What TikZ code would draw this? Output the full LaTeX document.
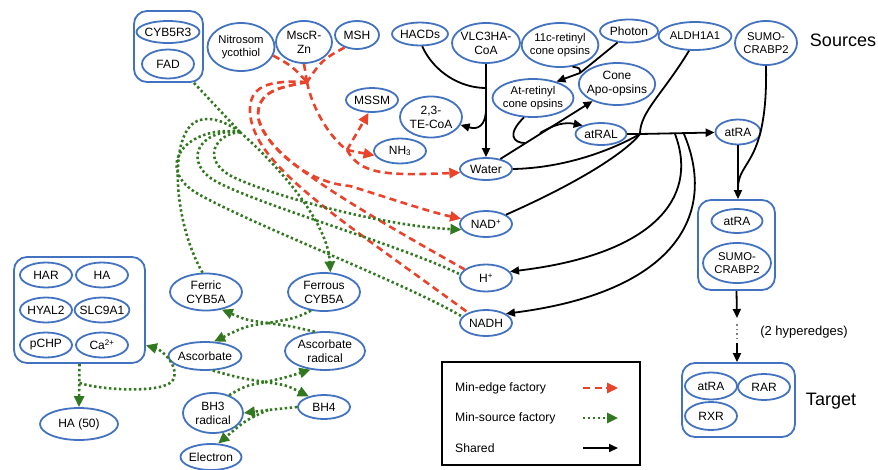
\documentclass[tikz,border=0pt]{standalone}
\usepackage{fontspec}
\setmainfont{Liberation Sans}
\usetikzlibrary{shapes.geometric,arrows.meta}
\definecolor{nb}{RGB}{66,114,192}
\definecolor{rd}{RGB}{234,67,44}
\definecolor{gn}{RGB}{50,120,32}
\begin{document}
\begin{tikzpicture}[x=1pt,y=-1pt,
  sz/.style 2 args={minimum width=#1pt, minimum height=#2pt},
  ell/.style={ellipse, draw=nb, line width=1.8pt, inner sep=-3pt, align=center, font=\fontsize{12}{14}\selectfont},
  sm/.style={font=\fontsize{11.3}{13.5}\selectfont},
  grp/.style={rectangle, draw=nb, line width=1.8pt, rounded corners=13pt},
  shr/.style={line width=1.8pt, black},
  shra/.style={shr, -{Triangle[length=9pt,width=8pt]}},
  medge/.style={line width=2.6pt, rd, dash pattern=on 7pt off 4.5pt},
  medgea/.style={medge, -{Triangle[length=11pt,width=10pt]}},
  msrc/.style={line width=2.6pt, gn, dash pattern=on 2.4pt off 2.6pt},
  msrca/.style={msrc, -{Triangle[length=11pt,width=10pt]}},
  lbl/.style={font=\fontsize{12.2}{14}\selectfont, anchor=west, inner sep=0pt}
]
\useasboundingbox (0,0) rectangle (878,469);

% ---------- top row ----------
\node[ell,sz={63}{22}] (cyb) at (168,32) {CYB5R3};
\node[ell,sz={52}{29}] (fad) at (168,64) {FAD};
\node[grp,sz={69}{71}] (box1) at (168.5,46.5) {};
\node[ell,sm,sz={67}{48}] (nit) at (241,47) {Nitrosom\\ycothiol};
\node[ell,sz={56}{42}] (msc) at (304,42) {MscR-\\Zn};
\node[ell,sz={44}{28}] (msh) at (357,35) {MSH};
\node[ell,sz={56}{23}] (hac) at (420,34) {HACDs};
\node[ell,sz={68}{40}] (vlc) at (486,43) {VLC3HA-\\CoA};
\node[ell,sm,sz={74}{44}] (c11) at (560,45) {11c-retinyl\\cone opsins};
\node[ell,sz={58}{23}] (pho) at (629,31) {Photon};
\node[ell,sm,sz={73}{28}] (ald) at (695,36) {ALDH1A1};
\node[ell,sm,sz={62}{44}] (sum) at (766,43) {SUMO-\\CRABP2};
\node[font=\fontsize{18}{20}\selectfont] (src) at (843,40) {Sources};

% ---------- middle ----------
\node[ell,sz={52}{24}] (mssm) at (372,100) {MSSM};
\node[ell,sz={62}{41}] (te) at (431,117) {2,3-\\TE-CoA};
\node[ell,sz={52}{25}] (nh3) at (400,151) {NH\textsubscript{3}};
\node[ell,sz={52}{22}] (wat) at (486,169) {Water};
\node[ell,sm,sz={81}{38}] (atr) at (533,98) {At-retinyl\\cone opsins};
\node[ell,sz={70}{42}] (apo) at (617,84) {Cone\\Apo-opsins};
\node[ell,sz={51}{22}] (ral) at (601,134) {atRAL};
\node[ell,sz={45}{25}] (ra) at (738,132) {atRA};
\node[ell,sz={52}{26}] (nadp) at (486,224) {NAD\textsuperscript{+}};
\node[ell,sz={52}{27}] (hp) at (486,278) {H\textsuperscript{+}};
\node[ell,sz={52}{26}] (nadh) at (486,323) {NADH};

% ---------- right ----------
\node[ell,sz={51}{24}] (ra2) at (737,221) {atRA};
\node[ell,sm,sz={68}{40}] (sum2) at (737,263) {SUMO-\\CRABP2};
\node[grp,sz={77}{90}] (box2) at (736.5,245) {};
\node[ell,sz={52}{27}] (ra3) at (711,386) {atRA};
\node[ell,sz={52}{26}] (rar) at (764,387) {RAR};
\node[ell,sz={52}{28}] (rxr) at (711,416) {RXR};
\node[grp,sz={113}{74}] (box3) at (738.5,400) {};
\node[font=\fontsize{13}{15}\selectfont] (hyp) at (804,332) {(2 hyperedges)};
\node[font=\fontsize{18}{20}\selectfont] (tgt) at (831,401) {Target};

% ---------- left group ----------
\node[ell,sz={52}{25}] (har) at (46,275) {HAR};
\node[ell,sz={52}{25}] (ha) at (102,275) {HA};
\node[ell,sz={52}{25}] (hyal) at (46,310) {HYAL2};
\node[ell,sz={54}{25}] (slc) at (102,310) {SLC9A1};
\node[ell,sz={52}{25}] (pchp) at (46,345) {pCHP};
\node[ell,sz={52}{25}] (ca) at (102,345) {Ca\textsuperscript{2+}};
\node[grp,sz={131}{106}] (lbox) at (79.5,310) {};
\node[ell,sz={78}{32}] (ha50) at (79,424) {HA (50)};

% ---------- lower middle ----------
\node[ell,sz={72}{37}] (fer) at (206,292) {Ferric\\CYB5A};
\node[ell,sz={72}{38}] (fes) at (324,292) {Ferrous\\CYB5A};
\node[ell,sz={73}{28}] (asc) at (205,356) {Ascorbate};
\node[ell,sz={80}{38}] (ascr) at (325,351) {Ascorbate\\radical};
\node[ell,sz={60}{40}] (bh3) at (213,413) {BH3\\radical};
\node[ell,sz={52}{24}] (bh4) at (324,407) {BH4};
\node[ell,sz={61}{26}] (ele) at (211,457) {Electron};

% ---------- legend ----------
\node[draw, line width=1.3pt, sz={198}{103}] (leg) at (541,413.5) {};
\node[lbl] (l1) at (455,388) {Min-edge factory};
\node[lbl] (l2) at (455,418) {Min-source factory};
\node[lbl] (l3) at (455,448) {Shared};
\coordinate (a1s) at (583,388); \coordinate (a1e) at (618,388);
\coordinate (a2s) at (583,418); \coordinate (a2e) at (618,418);
\coordinate (a3s) at (583,448); \coordinate (a3e) at (618,448);
\draw[medgea] (a1s) -- (a1e);
\draw[msrca] (a2s) -- (a2e);
\draw[shra] (a3s) -- (a3e);

% ---------- junction coordinates ----------
\coordinate (jv) at (486,88);
\coordinate (jte) at (486,108);
\coordinate (ja) at (580,73);
\coordinate (jw) at (525,143);
\coordinate (jr) at (540,133);
\coordinate (j4) at (640,134);
\coordinate (jh1) at (675,134);
\coordinate (jh2) at (684,134);
\coordinate (jra) at (738,188);
\coordinate (hy1) at (737,318);
\coordinate (hy2) at (737,343);
\coordinate (hd1) at (737,324);
\coordinate (hd2) at (737,340);
\coordinate (j1) at (307,82);
\coordinate (j2) at (347,150);
\coordinate (jg) at (240,132);
\coordinate (jc) at (268,323);
\coordinate (jb) at (265,382);
\coordinate (je) at (268,410);
\coordinate (jl) at (79.5,383);

% ---------- shared (black) ----------
\draw[shr] (hac.-80) .. controls (434,72) and (460,88) .. (jv);
\draw[shra] (vlc) -- (wat);
\draw[shra] (jte) .. controls (486,126) and (478,130) .. (te.-15);
\draw[shr] (pho.225) .. controls (596,60) .. (ja);
\draw[shr] (c11.-60) .. controls (580,68) .. (ja);
\draw[shra] (ja) -- (atr.35);
\draw[shra] (wat.35) -- (apo.-145);
\draw[shr] (atr.-115) .. controls (506,135) and (514,143) .. (jw);
\draw[shra] (jr) .. controls (555,124) and (565,122) .. (ral.155);
\draw[shr] (ral) -- (j4);
\draw[shra] (j4) -- (ra);
\draw[shr] (wat.east) .. controls (565,168) and (612,150) .. (j4);
\draw[shr] (ald.-112) .. controls (662,95) and (640,112) .. (j4);
\draw[shr] (nadp.25) .. controls (580,182) and (626,152) .. (j4);
\draw[shra] (jh1) .. controls (700,200) and (650,255) .. (hp.15);
\draw[shra] (jh2) .. controls (718,215) and (675,292) .. (nadh.25);
\draw[shra] (ra) -- (ra |- box2.north);
\draw[shr] (sum.south) .. controls (768,165) and (738,160) .. (jra);
\draw[shra] (box2.south) -- (hy1);
\draw[gray, line width=1.4pt, dash pattern=on 1.6pt off 3pt] (hd1) -- (hd2);
\draw[shra] (hy2) -- (hy2 |- box3.north);

% ---------- min-edge factory (red) ----------
\draw[medge] (nit.-15) .. controls (292,66) .. (j1);
\draw[medge] (msc.south) -- (j1);
\draw[medge] (msh.-135) .. controls (322,60) .. (j1);
\draw[medge] (j1) .. controls (312,108) and (330,138) .. (j2);
\draw[medgea] (j2) -- (mssm.-105);
\draw[medgea] (j2) -- (nh3.190);
\draw[medgea] (j2) .. controls (360,174) and (385,176) .. (wat.188);
\draw[medge] (j1) .. controls (268,80) and (249,86) .. (250,112) .. controls (253,165) and (335,215) .. (nadh.150);
\draw[medge] (j1) .. controls (276,88) and (258,92) .. (258,116) .. controls (262,150) and (320,188) .. (hp.158);
\draw[medgea] (j1) .. controls (276,88) and (258,92) .. (258,116) .. controls (262,140) and (300,182) .. (350,186) .. controls (395,200) and (430,212) .. (nadp.168);

% ---------- min-source factory (green) ----------
\draw[msrc] (box1.-55) -- (jg);
\draw[msrca] (jg) .. controls (285,172) and (328,225) .. (fes.72);
\draw[msrc] (fer.100) .. controls (172,220) and (168,128) .. (200,120) .. controls (215,116) and (230,125) .. (jg);
\draw[msrca] (jg) .. controls (215,134) and (200,160) .. (233,177) .. controls (275,197) and (385,226) .. (nadp.193);
\draw[msrc] (jg) .. controls (200,128) and (180,162) .. (217,182) .. controls (265,207) and (400,245) .. (hp.172);
\draw[msrc] (jg) .. controls (188,124) and (150,168) .. (200,195) .. controls (260,228) and (405,283) .. (nadh.165);
\draw[msrc] (fes.-125) .. controls (296,318) .. (jc);
\draw[msrc] (ascr.118) .. controls (290,326) .. (jc);
\draw[msrca] (jc) .. controls (246,320) .. (fer.-48);
\draw[msrca] (jc) .. controls (246,326) .. (asc.58);
\draw[msrc] (asc.-62) .. controls (240,378) .. (jb);
\draw[msrc] (bh3.48) .. controls (245,386) .. (jb);
\draw[msrca] (jb) .. controls (284,378) .. (ascr.-128);
\draw[msrca] (jb) .. controls (286,385) .. (bh4.145);
\draw[msrc] (bh4.west) -- (je);
\draw[msrca] (je) -- (bh3.east);
\draw[msrca] (je) .. controls (246,420) .. (ele.62);
\draw[msrca] (lbox.south) -- (ha50.north);
\draw[msrca] (jl) .. controls (100,390) and (165,394) .. (173,380) .. controls (180,366) and (162,350) .. (lbox.-28);
\end{tikzpicture}
\end{document}
